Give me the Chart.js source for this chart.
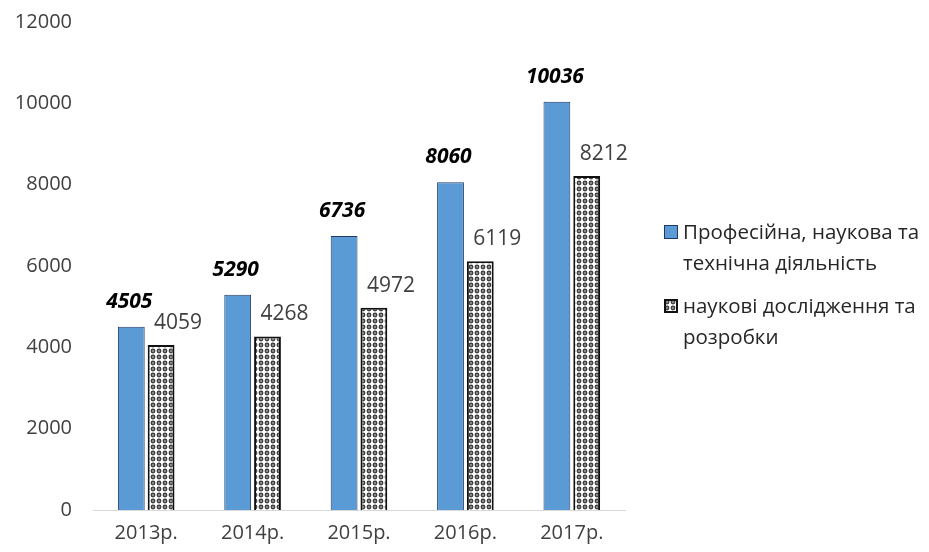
<!DOCTYPE html>
<html>
<head>
<meta charset="utf-8">
<script src="https://cdn.jsdelivr.net/npm/chart.js@4.4.0/dist/chart.umd.min.js"></script>
<style>
    html, body {margin: 0; padding: 0; background: #fff;}
    #wrap {position: relative; width: 929px; height: 552px;}
    #legend {position: absolute; left: 664px; top: 216px; font-family: "Open Sans", sans-serif; font-size: 20.5px; color: #262626; line-height: 31px; white-space: nowrap;}
    .item {display: flex; align-items: flex-start; margin-bottom: 12px;}
    .item canvas {margin-top: 9px; margin-right: 5px; flex: none;}
</style>
</head>
<body>
<div id="wrap">
    <canvas id="chart" width="929" height="552"></canvas>
    <div id="legend"></div>
</div>
<script>
const years = ['2013р.', '2014р.', '2015р.', '2016р.', '2017р.'];
const profActivity = [4505, 5290, 6736, 8060, 10036];
const researchDev = [4059, 4268, 4972, 6119, 8212];
const seriesNames = [['Професійна, наукова та', 'технічна  діяльність'], ['наукові дослідження та', 'розробки']];
const yTicks = [0, 2000, 4000, 6000, 8000, 10000, 12000];

function makePattern() {
    const c = document.createElement('canvas');
    c.width = 6; c.height = 6;
    const g = c.getContext('2d');
    g.fillStyle = '#ffffff';
    g.fillRect(0, 0, 6, 6);
    g.fillStyle = '#3a3a3a';
    g.beginPath(); g.arc(3, 3, 2.4, 0, Math.PI * 2); g.fill();
    g.fillStyle = '#8a8a8a';
    g.beginPath(); g.arc(3, 3, 1.2, 0, Math.PI * 2); g.fill();
    return g.createPattern(c, 'repeat');
}

const ctx = document.getElementById('chart').getContext('2d');
const dotPattern = makePattern();

const barLabels = {
    id: 'barLabels',
    afterDatasetsDraw(chart) {
        const c = chart.ctx;
        c.save();
        c.textAlign = 'center';
        c.textBaseline = 'middle';
        chart.data.datasets.forEach((ds, i) => {
            chart.getDatasetMeta(i).data.forEach((bar, j) => {
                if (i === 0) {
                    c.font = 'italic bold 21px "Open Sans", sans-serif';
                    c.fillStyle = '#000';
                    c.fillText(ds.data[j], bar.x - 2, bar.y - 25);
                } else {
                    c.font = '21px "Open Sans", sans-serif';
                    c.fillStyle = '#404040';
                    c.fillText(ds.data[j], bar.x + 17, bar.y - 22);
                }
            });
        });
        c.restore();
    }
};

const chart = new Chart(ctx, {
    type: 'bar',
    data: {
        labels: years,
        datasets: [
            {
                label: seriesNames[0].join(' '),
                data: profActivity,
                backgroundColor: '#5b9bd5',
                borderColor: '#203864',
                borderWidth: 1
            },
            {
                label: seriesNames[1].join(' '),
                data: researchDev,
                backgroundColor: dotPattern,
                borderColor: '#111',
                borderWidth: 2
            }
        ]
    },
    options: {
        responsive: false,
        animation: false,
        layout: {padding: {top: 22, right: 304, left: 0, bottom: 0}},
        categoryPercentage: 0.56,
        barPercentage: 0.9,
        plugins: {legend: {display: false}, tooltip: {enabled: false}},
        scales: {
            x: {
                grid: {display: false, drawTicks: false},
                border: {color: '#d9d9d9', width: 1},
                ticks: {color: '#404040', font: {family: 'Open Sans', size: 20}, padding: 11},
                afterFit: s => { s.height = 42; }
            },
            y: {
                min: 0,
                max: 12000,
                afterBuildTicks: s => { s.ticks = yTicks.map(v => ({value: v})); },
                grid: {display: false, drawTicks: false},
                border: {display: false},
                ticks: {color: '#404040', font: {family: 'Open Sans', size: 20}, padding: 21, callback: v => String(v)},
                afterFit: s => { s.width = 93; s.paddingTop = 0; }
            }
        }
    },
    plugins: [barLabels]
});

const legend = document.getElementById('legend');
seriesNames.forEach((name, i) => {
    const item = document.createElement('div');
    item.className = 'item';
    const sw = document.createElement('canvas');
    sw.width = 14; sw.height = 14;
    const g = sw.getContext('2d');
    if (i === 0) {
        g.fillStyle = '#5b9bd5'; g.fillRect(0, 0, 14, 14);
        g.strokeStyle = '#203864'; g.lineWidth = 1; g.strokeRect(0.5, 0.5, 13, 13);
    } else {
        g.fillStyle = '#111'; g.fillRect(0, 0, 14, 14);
        g.fillStyle = makePattern(); g.fillRect(2, 2, 10, 10);
    }
    const txt = document.createElement('div');
    txt.innerHTML = name.join('<br>');
    item.appendChild(sw);
    item.appendChild(txt);
    legend.appendChild(item);
});
</script>
</body>
</html>
